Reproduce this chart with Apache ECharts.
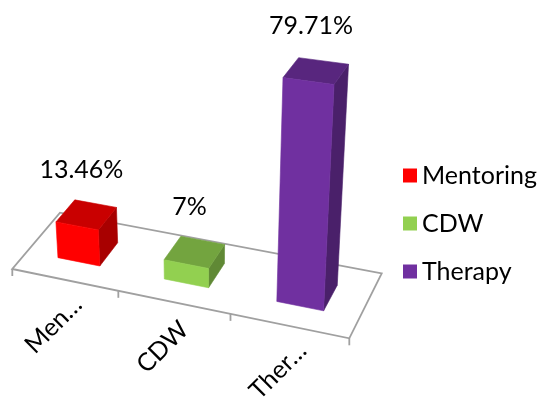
<!DOCTYPE html>
<html>
<head>
<meta charset="utf-8">
<script src="https://cdn.jsdelivr.net/npm/echarts@6/dist/echarts.min.js"></script>
<style>
  html, body { margin: 0; padding: 0; background: #ffffff; }
  #chart { width: 545px; height: 398px; }
</style>
</head>
<body>
<div id="chart"></div>
<script>
// ---- data ----
const categories = ['Mentoring', 'CDW', 'Therapy'];
const axisLabels = ['Men…', 'CDW', 'Ther…'];
const values = [13.46, 7, 79.71];
const valueLabels = ['13.46%', '7%', '79.71%'];
const colors = ['#FF0000', '#92D050', '#7030A0'];

// ---- 3D look ----
const FONT = 'Lato';
const FONT_SIZE = 25;
const FLOOR_LINE = '#a0a0a0';
const BAR_RATIO = 0.4;                       // bar width as share of a category band
const DEPTH_FRONT = 0.3, DEPTH_BACK = 0.7;   // bar depth inside the floor (0 = front, 1 = back)
const LABEL_DX = -5, LABEL_DY = -45;         // value label offset from the bar top
const CAT_DX = -11, CAT_DY = 45;             // category label offset from the front edge
const VERTICAL_VP = [206, 2860];             // vertical edges converge towards this point

// floor quadrilateral on screen: front-left, front-right, back-right, back-left
const FLOOR = [[12.3, 269], [349.3, 338.3], [381.7, 273.3], [60, 212.7]];

// perspective map from the unit floor square onto the floor quadrilateral
function squareToQuad(q) {
  const [p0, p1, p2, p3] = q;
  const sx = p0[0] - p1[0] + p2[0] - p3[0];
  const sy = p0[1] - p1[1] + p2[1] - p3[1];
  const dx1 = p1[0] - p2[0], dx2 = p3[0] - p2[0];
  const dy1 = p1[1] - p2[1], dy2 = p3[1] - p2[1];
  const den = dx1 * dy2 - dy1 * dx2;
  const g = (sx * dy2 - sy * dx2) / den;
  const h = (dx1 * sy - dy1 * sx) / den;
  return {
    a: p1[0] - p0[0] + g * p1[0], b: p3[0] - p0[0] + h * p3[0], c: p0[0],
    d: p1[1] - p0[1] + g * p1[1], e: p3[1] - p0[1] + h * p3[1], f: p0[1],
    g: g, h: h
  };
}
const HM = squareToQuad(FLOOR);

// u: across the categories, v: into the depth, lift: height in value pixels
function project(u, v, lift) {
  const w = HM.g * u + HM.h * v + 1;
  const x = (HM.a * u + HM.b * v + HM.c) / w;
  const y = (HM.d * u + HM.e * v + HM.f) / w;
  if (!lift) return [x, y];
  const dx = x - VERTICAL_VP[0], dy = y - VERTICAL_VP[1];
  const len = Math.sqrt(dx * dx + dy * dy);
  const s = lift / w / len;
  return [x + dx * s, y + dy * s];
}

function shade(hex, f) {
  const n = parseInt(hex.slice(1), 16);
  const r = Math.round(((n >> 16) & 255) * f);
  const g = Math.round(((n >> 8) & 255) * f);
  const b = Math.round((n & 255) * f);
  return 'rgb(' + r + ',' + g + ',' + b + ')';
}

function poly(points, fill) {
  return { type: 'polygon', shape: { points: points },
           style: { fill: fill, stroke: fill, lineWidth: 0.6 } };
}

function renderBar(params, api) {
  const cs = params.coordSys;
  const i = api.value(0);
  const val = api.value(1);
  const base = api.coord([i, 0]);
  const top = api.coord([i, val]);
  const band = api.size([1, 0])[0];
  const uc = (base[0] - cs.x) / cs.width;
  const hw = BAR_RATIO * band / cs.width / 2;
  const L = base[1] - top[1];
  const u0 = uc - hw, u1 = uc + hw, v0 = DEPTH_FRONT, v1 = DEPTH_BACK;
  const color = colors[i];
  const front = [project(u0, v0, 0), project(u1, v0, 0), project(u1, v0, L), project(u0, v0, L)];
  const side = [project(u1, v0, 0), project(u1, v1, 0), project(u1, v1, L), project(u1, v0, L)];
  const lid = [project(u0, v0, L), project(u1, v0, L), project(u1, v1, L), project(u0, v1, L)];
  const lp = project(uc, (v0 + v1) / 2, L);
  return {
    type: 'group',
    children: [
      poly(side, shade(color, 0.66)),
      poly(lid, shade(color, 0.79)),
      poly(front, color),
      {
        type: 'text', x: lp[0] + LABEL_DX, y: lp[1] + LABEL_DY,
        style: { text: valueLabels[i], align: 'center', verticalAlign: 'middle',
                 fontFamily: FONT, fontSize: FONT_SIZE, fill: '#000000' }
      }
    ]
  };
}

function renderFloor(params, api) {
  const cs = params.coordSys;
  const n = categories.length;
  const band = api.size([1, 0])[0];
  const children = [{
    type: 'polygon',
    shape: { points: [project(0, 0, 0), project(1, 0, 0), project(1, 1, 0), project(0, 1, 0)] },
    style: { fill: '#ffffff', stroke: FLOOR_LINE, lineWidth: 1.8, lineJoin: 'miter' }
  }];
  for (let i = 0; i <= n; i++) {
    const x = i < n ? api.coord([i, 0])[0] - band / 2 : api.coord([n - 1, 0])[0] + band / 2;
    const p = project((x - cs.x) / cs.width, 0, 0);
    children.push({ type: 'line', shape: { x1: p[0], y1: p[1], x2: p[0], y2: p[1] + 7 },
                    style: { stroke: FLOOR_LINE, lineWidth: 1.8 } });
  }
  for (let i = 0; i < n; i++) {
    const p = project((api.coord([i, 0])[0] - cs.x) / cs.width, 0, 0);
    children.push({
      type: 'text', x: p[0] + CAT_DX, y: p[1] + CAT_DY, rotation: Math.PI / 4,
      style: { text: axisLabels[i], align: 'center', verticalAlign: 'middle',
               fontFamily: FONT, fontSize: FONT_SIZE, fill: '#000000' }
    });
  }
  return { type: 'group', children: children };
}

const series = [{
  type: 'custom', name: 'floor', z: 1, silent: true,
  renderItem: renderFloor, data: [[0, 0]]
}].concat(categories.map(function (name, i) {
  return {
    type: 'custom', name: name, z: 2, silent: true,
    itemStyle: { color: colors[i] },
    renderItem: renderBar,
    data: [[i, values[i]]]
  };
}));

const chart = echarts.init(document.getElementById('chart'));
chart.setOption({
  animation: false,
  backgroundColor: '#ffffff',
  color: colors,
  grid: { left: 0, top: 0, width: 100, height: 268, show: false },
  xAxis: { type: 'category', data: categories, show: false },
  yAxis: { type: 'value', min: 0, max: 100, show: false },
  legend: {
    data: categories, orient: 'vertical', left: 398, top: 158,
    icon: 'rect', itemWidth: 14, itemHeight: 14, itemGap: 23,
    selectedMode: false,
    textStyle: { fontFamily: FONT, fontSize: FONT_SIZE, color: '#000000' }
  },
  series: series
});
</script>
</body>
</html>
